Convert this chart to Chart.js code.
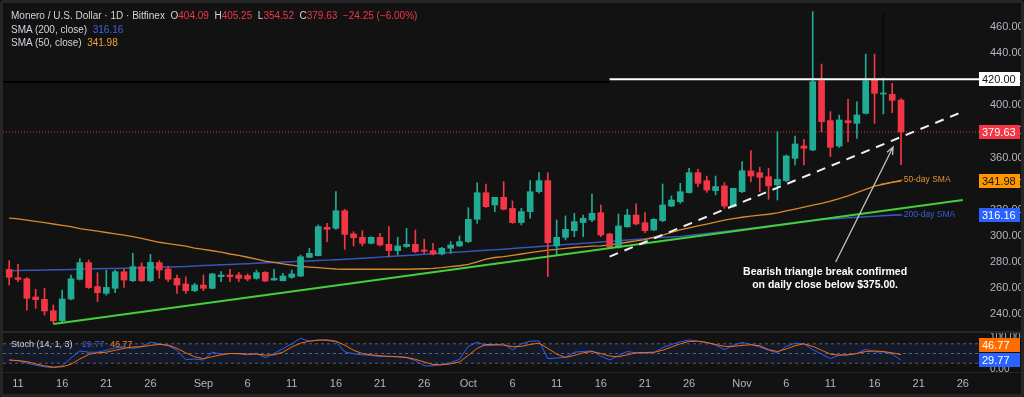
<!DOCTYPE html>
<html>
<head>
<meta charset="utf-8">
<script src="https://cdn.jsdelivr.net/npm/chart.js@4.4.0/dist/chart.umd.min.js"></script>
<style>
  html, body { margin: 0; padding: 0; background: #121212; }
  #wrap { position: relative; width: 1024px; height: 397px; overflow: hidden; background: #121212; }
  #priceChart { position: absolute; left: 0; top: 0; }
  #stochChart { position: absolute; left: 0; top: 333px; }
  .frame { position: absolute; left: 0; top: 0; width: 1024px; height: 397px; box-sizing: border-box;
           border: 3px solid #262626; border-radius: 4px; pointer-events: none; }
  .legend { position: absolute; left: 11px; font: 10px "Liberation Sans", Arial, sans-serif; color: #d1d4dc; white-space: pre; }
  .red { color: #f23645; }
  .blue { color: #3b63d9; }
  .orange { color: #f0a030; }
</style>
</head>
<body>
<div id="wrap">
  <canvas id="priceChart" width="1024" height="333"></canvas>
  <canvas id="stochChart" width="1024" height="64"></canvas>
  <div class="legend" style="top:10px">Monero / U.S. Dollar · 1D · Bitfinex  O<span class="red" id="lgO"></span>  H<span class="red" id="lgH"></span>  L<span class="red" id="lgL"></span>  C<span class="red" id="lgC"></span>  <span class="red" id="lgChg"></span></div>
  <div class="legend" style="top:24px">SMA (200, close)  <span class="blue" id="lg200"></span></div>
  <div class="legend" style="top:37px">SMA (50, close)  <span class="orange" id="lg50"></span></div>
  <div class="frame"></div>
</div>
<script>
// daily candles, Aug 10 -> Nov 19 (index 0 = Aug 10)
const opens = [274.2, 267.8, 267.0, 253.0, 251.2, 242.5, 234.8, 251.5, 266.6, 279.4,
  261.0, 255.8, 259.7, 272.4, 265.5, 276.3, 265.5, 279.4, 274.5, 267.3,
  263.0, 257.9, 262.2, 259.7, 268.6, 269.9, 269.9, 269.4, 267.3, 271.9,
  266.0, 265.5, 268.1, 269.1, 283.4, 284.7, 306.5, 305.7, 319.2, 301.4,
  298.8, 294.2, 298.8, 293.4, 288.6, 291.6, 293.4, 289.1, 288.6, 286.0,
  290.4, 292.2, 295.5, 312.6, 333.0, 323.6, 329.5, 321.0, 310.1, 318.5,
  333.8, 342.3, 292.2, 298.8, 303.9, 310.1, 312.1, 317.7, 301.4, 291.1,
  306.9, 315.9, 310.0, 304.4, 311.6, 322.8, 326.1, 333.1, 348.4, 342.3,
  334.6, 338.2, 322.3, 333.8, 349.7, 348.4, 345.3, 339.0, 342.3, 359.4,
  368.9, 365.8, 418.9, 388.3, 368.8, 388.3, 386.2, 393.9, 420.0, 408.7,
  408.5, 404.09];
const highs = [280.9, 278.0, 268.0, 258.9, 259.7, 246.9, 258.4, 269.9, 282.4, 281.4,
  271.7, 273.7, 273.7, 274.2, 286.5, 279.3, 285.7, 280.9, 276.8, 269.9,
  268.6, 263.5, 269.9, 271.2, 272.5, 274.3, 271.9, 270.7, 273.7, 272.5,
  274.3, 271.2, 273.7, 285.2, 290.4, 308.3, 309.5, 333.8, 320.3, 303.1,
  303.9, 299.3, 301.9, 307.0, 298.8, 305.7, 304.4, 297.3, 294.2, 291.1,
  295.5, 299.8, 321.5, 340.7, 339.7, 329.5, 341.5, 326.7, 321.0, 342.3,
  348.4, 348.4, 312.1, 315.2, 317.2, 315.9, 332.0, 323.6, 301.9, 316.7,
  320.3, 324.4, 317.7, 313.1, 339.7, 330.5, 340.2, 351.7, 351.0, 345.8,
  345.8, 340.7, 336.4, 356.8, 365.3, 352.5, 351.7, 379.8, 361.9, 376.5,
  374.0, 471.9, 431.7, 395.2, 392.6, 404.6, 402.8, 439.4, 439.4, 421.5,
  416.9, 405.25];
const lows = [262.2, 264.8, 243.0, 244.3, 239.2, 232.8, 234.0, 250.7, 266.0, 259.6,
  249.4, 254.5, 256.3, 260.4, 264.8, 264.8, 264.8, 267.3, 264.8, 255.8,
  255.8, 257.1, 257.9, 259.2, 264.8, 264.8, 264.8, 265.5, 266.6, 264.8,
  266.0, 265.3, 267.3, 268.6, 283.4, 284.5, 295.5, 304.9, 289.6, 292.2,
  292.2, 293.7, 292.2, 284.0, 285.2, 291.1, 287.0, 286.5, 285.2, 285.2,
  286.5, 291.6, 294.7, 309.5, 321.8, 318.5, 319.8, 309.5, 308.3, 313.4,
  332.6, 268.6, 285.3, 296.8, 299.3, 299.3, 310.8, 299.3, 290.4, 290.4,
  306.5, 308.3, 302.4, 303.9, 310.8, 322.3, 324.9, 332.6, 337.7, 333.3,
  331.3, 321.0, 321.8, 333.1, 341.5, 333.8, 328.0, 327.4, 341.5, 354.3,
  354.3, 365.2, 379.8, 360.7, 367.8, 372.2, 374.7, 393.4, 386.2, 393.4,
  394.4, 354.52];
const closes = [268.1, 266.5, 252.0, 251.0, 242.3, 234.8, 251.5, 267.0, 279.4, 260.2,
  256.3, 260.4, 272.4, 266.0, 276.3, 265.5, 279.6, 273.7, 266.6, 262.2,
  257.9, 262.2, 259.7, 270.7, 269.9, 268.6, 267.3, 266.8, 271.7, 265.3,
  267.3, 269.1, 270.7, 283.9, 286.5, 307.0, 304.9, 319.2, 301.0, 298.5,
  294.2, 298.8, 292.9, 288.6, 292.2, 293.4, 287.8, 288.1, 286.0, 290.4,
  292.9, 295.5, 312.6, 333.0, 322.3, 329.5, 320.3, 310.1, 318.5, 333.8,
  342.3, 294.7, 298.8, 304.9, 310.8, 313.4, 317.2, 300.6, 291.1, 307.5,
  315.9, 309.0, 303.9, 312.6, 323.6, 327.4, 333.8, 348.4, 340.2, 335.1,
  337.7, 322.8, 336.4, 349.9, 345.8, 344.8, 338.2, 343.3, 361.2, 370.4,
  367.1, 418.2, 387.5, 367.8, 388.8, 386.7, 392.6, 418.9, 409.2, 409.5,
  403.88, 379.63];

const sma50 = [313.5, 313, 312, 311, 310, 309, 308, 307, 305.5, 304.5,
  303.5, 302.5, 301.5, 300.5, 299.3, 298, 296.5, 295, 294, 293,
  292, 290.5, 289.6, 288.5, 287.5, 286, 285, 283.5, 282, 280.5,
  279.5, 278.5, 277.5, 276.5, 276, 275.5, 275, 274.5, 274.3, 274.3,
  274.3, 274.3, 274.3, 274.3, 274.3, 274.3, 274.5, 274.7, 275, 275.5,
  276.3, 277, 278, 280, 282, 283.3, 284, 285, 286, 287,
  288, 289, 289.5, 290.3, 291, 291.5, 292, 292.2, 293, 294,
  295, 296, 297, 299, 300.5, 302.5, 304.5, 306, 307.5, 309,
  310.5, 312, 313.2, 314.2, 315, 315.8, 316.5, 317.5, 319, 320.5,
  322, 323.5, 324.8, 326.5, 328.5, 330.5, 333, 335.5, 338, 339.5,
  341, 341.98];
const sma200 = [273.2, 273.3, 273.5, 273.6, 273.8, 273.9, 274.0, 274.2, 274.3, 274.5,
  274.6, 274.8, 274.9, 275.1, 275.3, 275.4, 275.6, 275.8, 276.0, 276.2,
  276.5, 276.8, 277.1, 277.4, 277.7, 278.0, 278.3, 278.6, 278.9, 279.2,
  279.5, 279.8, 280.1, 280.4, 280.7, 281.0, 281.3, 281.6, 281.9, 282.3,
  282.7, 283.1, 283.6, 284.0, 284.4, 284.9, 285.3, 285.8, 286.2, 286.7,
  287.1, 287.6, 288.0, 288.5, 288.9, 289.3, 289.7, 290.2, 290.7, 291.2,
  291.7, 292.2, 292.7, 293.2, 293.7, 294.2, 294.7, 295.2, 295.7, 296.2,
  296.7, 297.2, 297.7, 298.2, 298.7, 299.1, 299.5, 300.2, 300.9, 301.7,
  302.5, 303.3, 304.1, 305.0, 305.8, 306.6, 307.4, 308.3, 309.1, 309.9,
  310.8, 311.6, 312.4, 312.9, 313.3, 313.8, 314.2, 314.6, 315.0, 315.4,
  315.8, 316.16];

const stochK = [29.5, 28, 20, 14, 9, 6.5, 12, 36, 58, 54,
  54, 60, 68, 70, 66, 71, 85, 80, 74, 60,
  31, 33, 30, 54, 48, 50, 49, 46, 51, 37,
  50, 65, 80, 97, 88, 92, 90, 86, 55, 49,
  46, 44, 41, 41, 40, 37, 28, 12, 12, 16,
  22, 32, 72, 85, 74, 76, 80, 61, 80, 88,
  89, 34, 36, 38, 54, 56, 58, 42, 30, 44,
  56, 52, 51, 52, 68, 78, 86, 92, 88, 84,
  76, 62, 75, 84, 78, 70, 60, 52, 72, 82,
  80, 62, 48, 34, 45, 46, 50, 63, 55, 55,
  48, 29.77];
const stochD = [30, 28, 25, 18, 12, 8, 9, 17, 33, 47,
  52, 54, 60, 66, 70, 71, 75, 78, 76, 66,
  52, 40, 34, 40, 46, 50, 50, 48, 48, 45,
  46, 54, 70, 82, 88, 91, 92, 88, 76, 60,
  50, 46, 43, 41, 40, 38, 32, 24, 16, 15,
  18, 24, 44, 66, 78, 77, 76, 71, 72, 78,
  82, 66, 48, 38, 44, 52, 56, 50, 42, 40,
  46, 52, 53, 54, 60, 70, 80, 87, 88, 84,
  78, 72, 72, 75, 77, 74, 62, 56, 64, 74,
  80, 72, 60, 48, 45, 46, 50, 56, 58, 56,
  52, 46.77];
const stochLevels = [80, 50, 20];

const tickDays = [1, 6, 11, 16, 22, 27, 32, 37, 42, 47, 52, 57, 62, 67, 72, 77, 83, 88, 93, 98, 103, 108];
const tickLabels = ["11", "16", "21", "26", "Sep", "6", "11", "16", "21", "26", "Oct", "6", "11", "16", "21", "26", "Nov", "6", "11", "16", "21", "26"];
const priceTicks = [240, 260, 280, 300, 320, 340, 360, 380, 400, 420, 440, 460];
const stochTicks = [0, 100];

// drawings, in [day index, price]
const resistance = 420;
const resistanceFrom = 68;
const oldLevel = 418;
const supportLine = [[5, 232.3], [108, 327.4]];
const triangleLine = [[68, 284], [108, 395.2]];
const spikeLine = [[99, 420], [99, 471.6]];
const arrowFrom = [93.6, 279.9];
const arrowTo = [100.1, 368.1];
const noteAt = [92.4, 272.2];
const noteLines = ["Bearish triangle break confirmed", "on daily close below $375.00."];
const sma50Tag = [[98.6, 339.3], [101.2, 342.8]];
const sma200Tag = [[98.6, 315.6], [101.2, 315.9]];

const xMin = -0.7, xMax = 109.83;
const green = "#22ab94", red = "#f23645";
const last = closes.length - 1;
const candleColors = closes.map((c, i) => (c >= opens[i] ? green : red));
const pts = arr => arr.map((v, i) => ({ x: i, y: v }));
const seg = a => a.map(p => ({ x: p[0], y: p[1] }));

document.getElementById("lgO").textContent = opens[last].toFixed(2);
document.getElementById("lgH").textContent = highs[last].toFixed(2);
document.getElementById("lgL").textContent = lows[last].toFixed(2);
document.getElementById("lgC").textContent = closes[last].toFixed(2);
const chg = closes[last] - closes[last - 1];
document.getElementById("lgChg").textContent =
  "\u2212" + Math.abs(chg).toFixed(2) + " (\u2212" + Math.abs(chg / closes[last - 1] * 100).toFixed(2) + "%)";
document.getElementById("lg200").textContent = sma200[last].toFixed(2);
document.getElementById("lg50").textContent = sma50[last].toFixed(2);

function valueBox(ctx, y, text, bg, fg) {
  ctx.fillStyle = bg;
  ctx.fillRect(979, Math.round(y) - 7, 41, 14);
  ctx.fillStyle = fg;
  ctx.font = "11px 'Liberation Sans', Arial";
  ctx.textAlign = "left";
  ctx.textBaseline = "middle";
  ctx.fillText(text, 982, Math.round(y) + 0.5);
}

const priceOverlay = {
  id: "priceOverlay",
  afterDatasetsDraw(chart) {
    const { ctx, scales: { x, y } } = chart;
    const px = v => x.getPixelForValue(v), py = v => y.getPixelForValue(v);
    ctx.save();
    // SMA tags
    ctx.lineWidth = 1;
    ctx.strokeStyle = "#d88a2c";
    ctx.beginPath();
    ctx.moveTo(px(sma50Tag[0][0]), py(sma50Tag[0][1]));
    ctx.lineTo(px(sma50Tag[1][0]), py(sma50Tag[1][1]));
    ctx.stroke();
    ctx.strokeStyle = "#3656c4";
    ctx.beginPath();
    ctx.moveTo(px(sma200Tag[0][0]), py(sma200Tag[0][1]));
    ctx.lineTo(px(sma200Tag[1][0]), py(sma200Tag[1][1]));
    ctx.stroke();
    ctx.font = "8.5px 'Liberation Sans', Arial";
    ctx.textBaseline = "middle";
    ctx.textAlign = "left";
    ctx.fillStyle = "#e0922e";
    ctx.fillText("50-day SMA", px(sma50Tag[1][0]) + 1, py(sma50Tag[1][1]));
    ctx.fillStyle = "#3a5fd6";
    ctx.fillText("200-day SMA", px(sma200Tag[1][0]) + 1, py(sma200Tag[1][1]));

    // arrow
    const ax0 = px(arrowFrom[0]), ay0 = py(arrowFrom[1]);
    const ax1 = px(arrowTo[0]), ay1 = py(arrowTo[1]);
    const ang = Math.atan2(ay1 - ay0, ax1 - ax0);
    ctx.strokeStyle = "#c4c4c4";
    ctx.lineWidth = 1.3;
    ctx.beginPath();
    ctx.moveTo(ax0, ay0);
    ctx.lineTo(ax1, ay1);
    ctx.moveTo(ax1 - 8 * Math.cos(ang - 0.4), ay1 - 8 * Math.sin(ang - 0.4));
    ctx.lineTo(ax1, ay1);
    ctx.lineTo(ax1 - 8 * Math.cos(ang + 0.4), ay1 - 8 * Math.sin(ang + 0.4));
    ctx.stroke();

    // note
    ctx.fillStyle = "#ffffff";
    ctx.font = "bold 10.5px 'Liberation Sans', Arial";
    ctx.textAlign = "center";
    noteLines.forEach((t, k) => ctx.fillText(t, px(noteAt[0]), py(noteAt[1]) + k * 13));
    ctx.restore();
  },
  afterDraw(chart) {
    const { ctx, scales: { y } } = chart;
    ctx.save();
    valueBox(ctx, y.getPixelForValue(resistance), resistance.toFixed(2), "#ffffff", "#131313");
    valueBox(ctx, y.getPixelForValue(closes[last]), closes[last].toFixed(2), red, "#ffffff");
    valueBox(ctx, y.getPixelForValue(sma50[last]), sma50[last].toFixed(2), "#ff9800", "#131313");
    valueBox(ctx, y.getPixelForValue(sma200[last]), sma200[last].toFixed(2), "#2962ff", "#ffffff");
    ctx.fillStyle = "#262626";
    ctx.fillRect(3, 331, 1018, 2);
    ctx.restore();
  }
};

const stochOverlay = {
  id: "stochOverlay",
  afterDraw(chart) {
    const { ctx, scales: { y }, chartArea } = chart;
    ctx.save();
    let yk = y.getPixelForValue(stochK[last]);
    let yd = y.getPixelForValue(stochD[last]);
    if (yk - yd < 15) yd = yk - 15;
    valueBox(ctx, yd, stochD[last].toFixed(2), "#ff6d00", "#ffffff");
    valueBox(ctx, yk, stochK[last].toFixed(2), "#2962ff", "#ffffff");
    ctx.fillStyle = "#262626";
    ctx.fillRect(3, chartArea.bottom, 1018, 1);
    ctx.fillStyle = "#d1d4dc";
    ctx.font = "9px 'Liberation Sans', Arial";
    ctx.textAlign = "left";
    ctx.textBaseline = "middle";
    ctx.fillText("Stoch (14, 1, 3)", 11, 12);
    ctx.fillStyle = "#3b63d9";
    ctx.fillText(stochK[last].toFixed(2), 82, 12);
    ctx.fillStyle = "#f07a20";
    ctx.fillText(stochD[last].toFixed(2), 110, 12);
    ctx.restore();
  }
};

const lineDs = (data, color, width, order, extra) => Object.assign({
  type: "line", data, borderColor: color, borderWidth: width, pointRadius: 0,
  tension: 0, fill: false, order
}, extra || {});

new Chart(document.getElementById("priceChart"), {
  type: "bar",
  data: {
    datasets: [
      lineDs([{ x: xMin, y: closes[last] }, { x: xMax, y: closes[last] }], red, 1, 20, { borderDash: [1, 2] }),
      lineDs([{ x: xMin, y: oldLevel }, { x: resistanceFrom, y: oldLevel }], "#000000", 2, 19),
      lineDs(pts(sma200), "#3656b8", 1.5, 18),
      lineDs(pts(sma50), "#d88a2c", 1.3, 17),
      {
        label: "wicks", data: lows.map((l, i) => ({ x: i, y: [l, highs[i]] })),
        backgroundColor: candleColors, barThickness: 1, grouped: false, order: 15
      },
      {
        label: "bodies", data: opens.map((o, i) => ({ x: i, y: [o, closes[i]] })),
        backgroundColor: candleColors, barThickness: 6, minBarLength: 1, grouped: false, order: 14
      },
      lineDs(seg(supportLine), "#43d13a", 2, 5),
      lineDs(seg(triangleLine), "#f2f2f2", 2, 4, { borderDash: [9, 7] }),
      lineDs([{ x: resistanceFrom, y: resistance }, { x: xMax, y: resistance }], "#ffffff", 2, 3),
      lineDs(seg(spikeLine), "#050505", 1, 3)
    ]
  },
  options: {
    responsive: false,
    animation: false,
    events: [],
    layout: { padding: { left: 3, top: 5, bottom: 3, right: 0 } },
    plugins: { legend: { display: false }, tooltip: { enabled: false } },
    scales: {
      x: { type: "linear", min: xMin, max: xMax, display: false, offset: false },
      y: {
        position: "right", min: 227.7, max: 477,
        grid: { display: false }, border: { display: false },
        afterBuildTicks: s => { s.ticks = priceTicks.map(v => ({ value: v })); },
        afterFit: s => { s.width = 45; s.paddingTop = 0; s.paddingBottom = 0; },
        ticks: { color: "#b2b5be", padding: 3, font: { size: 11, family: "'Liberation Sans', Arial" },
                 callback: v => Number(v).toFixed(2) }
      }
    }
  },
  plugins: [priceOverlay]
});

new Chart(document.getElementById("stochChart"), {
  type: "line",
  data: {
    datasets: [
      lineDs([{ x: xMin, y: stochLevels[0] }, { x: xMax, y: stochLevels[0] }], "#5d606b", 1, 10,
             { borderDash: [3, 3], fill: 2, backgroundColor: "rgba(41, 98, 255, 0.1)" }),
      lineDs([{ x: xMin, y: stochLevels[1] }, { x: xMax, y: stochLevels[1] }], "#5d606b", 1, 9, { borderDash: [3, 3] }),
      lineDs([{ x: xMin, y: stochLevels[2] }, { x: xMax, y: stochLevels[2] }], "#5d606b", 1, 8, { borderDash: [3, 3] }),
      lineDs(pts(stochK), "#2962ff", 1, 2),
      lineDs(pts(stochD), "#ff6d00", 1, 1)
    ]
  },
  options: {
    responsive: false,
    animation: false,
    events: [],
    layout: { padding: { left: 3, top: 1, bottom: 0, right: 0 } },
    plugins: { legend: { display: false }, tooltip: { enabled: false } },
    scales: {
      x: {
        type: "linear", min: xMin, max: xMax, offset: false,
        grid: { display: false, drawTicks: false }, border: { display: false },
        afterBuildTicks: s => { s.ticks = tickDays.map(v => ({ value: v })); },
        afterFit: s => { s.height = 25; s.paddingLeft = 0; s.paddingRight = 0; },
        ticks: { color: "#b2b5be", padding: 5, autoSkip: false, maxRotation: 0,
                 font: { size: 11, family: "'Liberation Sans', Arial" },
                 callback: v => tickLabels[tickDays.indexOf(v)] }
      },
      y: {
        position: "right", min: -7.1, max: 110.2,
        grid: { display: false }, border: { display: false },
        afterBuildTicks: s => { s.ticks = stochTicks.map(v => ({ value: v })); },
        afterFit: s => { s.width = 45; s.paddingTop = 0; s.paddingBottom = 0; },
        ticks: { color: "#b2b5be", padding: 3, font: { size: 10, family: "'Liberation Sans', Arial" },
                 callback: v => Number(v).toFixed(2) }
      }
    }
  },
  plugins: [stochOverlay]
});
</script>
</body>
</html>
